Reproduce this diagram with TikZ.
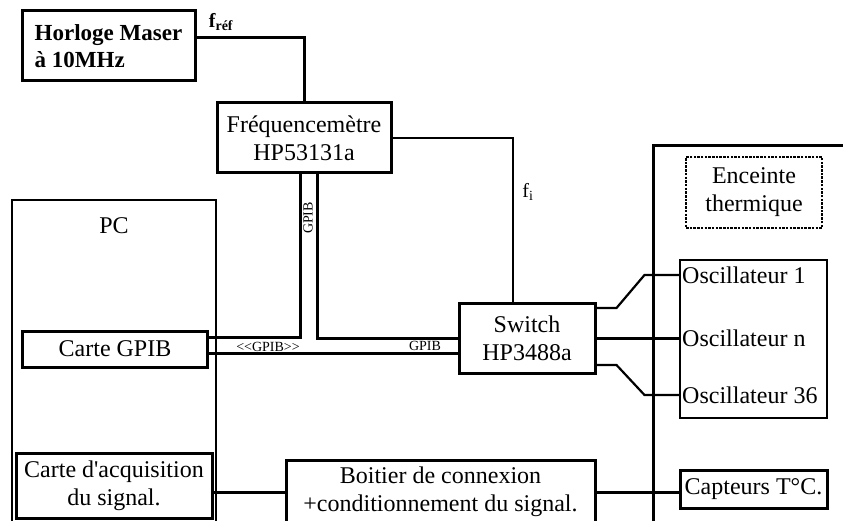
\documentclass[tikz,border=0pt]{standalone}
\usepackage{fontspec}
\setmainfont{Liberation Serif}
\begin{document}
\begin{tikzpicture}[x=1pt,y=-1pt,
  bloc/.style={draw,line width=3pt,inner sep=0pt,align=center,font=\fontsize{24}{28}\selectfont},
  wire/.style={line width=3pt},
  fil/.style={line width=2.2pt},
  petit/.style={font=\fontsize{14}{16}\selectfont,inner sep=1pt},
  osctxt/.style={anchor=west,inner sep=2pt,font=\fontsize{24}{28}\selectfont}]
\clip (0,0) rectangle (843,521);
\draw[wire] (653,560) |- (880,146);
\node[bloc,line width=2.5pt,minimum width=204pt,minimum height=400pt] (pc) at (114,400) {};
\node[font=\fontsize{24}{28}\selectfont] (pctxt) at ([yshift=-27pt]pc.north) {PC};
\node[bloc,align=left,font=\bfseries\fontsize{23}{27}\selectfont,minimum width=173pt,minimum height=70pt] (maser) at (108.5,46) {Horloge Maser\\à 10MHz};
\node[bloc,minimum width=174pt,minimum height=70pt] (freq) at (304,138) {Fréquencemètre\\HP53131a};
\node[bloc,minimum width=185pt,minimum height=36pt] (gpib) at (115,349) {Carte GPIB};
\node[bloc,minimum width=136pt,minimum height=70pt] (switch) at (527,338) {Switch\\HP3488a};
\node[bloc,line width=2pt,dash pattern=on 2.5pt off 1.2pt,minimum width=136pt,minimum height=71pt] (enceinte) at (754,192.5) {Enceinte\\thermique};
\node[bloc,line width=2pt,minimum width=147pt,minimum height=158pt] (osc) at (753.5,339) {};
\node[osctxt] (o1) at (680,275) {Oscillateur 1};
\node[osctxt] (on) at (680,338) {Oscillateur n};
\node[osctxt] (o36) at (680,395) {Oscillateur 36};
\node[bloc,minimum width=147pt,minimum height=38pt] (capt) at (753.5,489) {Capteurs T°C.};
\node[bloc,minimum width=196pt,minimum height=65pt] (acq) at (114,485.5) {Carte d\textquotesingle acquisition\\du signal.};
\node[bloc,minimum width=309pt,minimum height=64pt] (boitier) at (440.5,492) {Boitier de connexion\\+conditionnement du signal.};

\draw[wire] ([yshift=8pt]maser.east) -| (freq.north);
\node[font=\bfseries\fontsize{20}{22}\selectfont] (fref) at (221,22) {f\textsubscript{réf}};
\draw[fil] (freq.east) -| ([xshift=-14pt]switch.north);
\node[font=\fontsize{20}{22}\selectfont] (fi) at (528,192) {f\textsubscript{i}};
\draw[wire] ([yshift=12pt]gpib.east) -| ([xshift=-4pt]freq.south);
\draw[wire] ([xshift=13pt]freq.south) |- (switch.west);
\draw[wire] ([yshift=-4pt]gpib.east) -- ([yshift=-15pt]switch.west);
\node[petit] (gpib1) at (268,347) {<{}<GPIB>{}>};
\node[petit] (gpib2) at (425,346) {GPIB};
\node[petit,rotate=90] (gpib3) at (308,218) {GPIB};
\draw[fil] ([yshift=30pt]switch.east) -- ++(20,0) -- ++(28,-33) -- (o1.west);
\draw[wire] (switch.east) -- (on.west);
\draw[fil] ([yshift=-27pt]switch.east) -- ++(20,0) -- ++(28,30) -- (o36.west);
\draw[wire] (acq.east |- boitier.west) -- (boitier.west);
\draw[wire] (boitier.east) -- (boitier.east -| capt.west);
\end{tikzpicture}
\end{document}
